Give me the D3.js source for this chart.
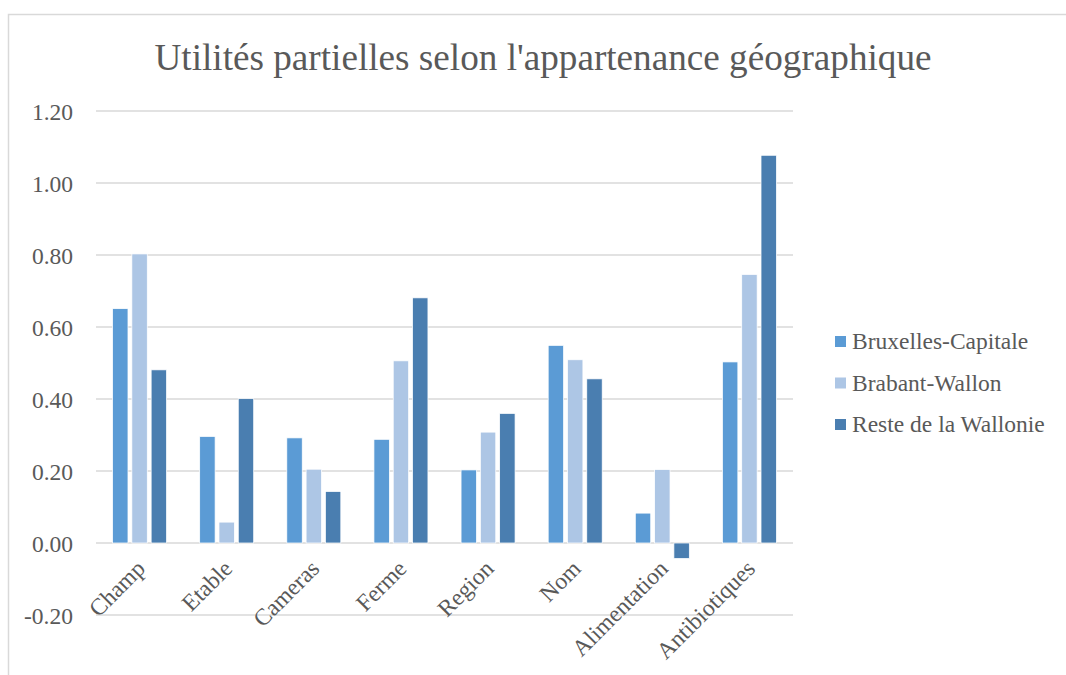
<!DOCTYPE html>
<html>
<head>
<meta charset="utf-8">
<script src="https://cdn.jsdelivr.net/npm/d3@7"></script>
<style>
  body { margin: 0; background: #fff; }
  svg text { font-family: "Liberation Serif", "Times New Roman", serif; fill: #595959; }
</style>
</head>
<body>
<div id="chart"></div>
<script>
// data
var categories = ["Champ", "Etable", "Cameras", "Ferme", "Region", "Nom", "Alimentation", "Antibiotiques"];
var seriesNames = ["Bruxelles-Capitale", "Brabant-Wallon", "Reste de la Wallonie"];
var bruxelles = [0.651, 0.296, 0.292, 0.288, 0.203, 0.549, 0.083, 0.503];
var brabant = [0.803, 0.058, 0.205, 0.506, 0.308, 0.509, 0.204, 0.746];
var resteWallonie = [0.481, 0.401, 0.143, 0.681, 0.360, 0.456, -0.043, 1.077];
var yTicks = [-0.2, 0, 0.2, 0.4, 0.6, 0.8, 1.0, 1.2];
var colors = ["#5b9bd5", "#adc6e5", "#4a7eb0"];

var allSeries = [bruxelles, brabant, resteWallonie];

var W = 1066, H = 675;
var margin = {top: 111, left: 96, right: 273, bottom: 60};
var width = 793 - margin.left,
    height = 615 - margin.top;

var svg = d3.select("#chart").append("svg")
    .attr("width", W).attr("height", H);

// chart frame
svg.append("rect")
    .attr("x", 8.5).attr("y", 14.5)
    .attr("width", W).attr("height", H)
    .attr("fill", "none").attr("stroke", "#d9d9d9").attr("stroke-width", 1.5);

svg.append("text")
    .attr("x", 543).attr("y", 70)
    .attr("text-anchor", "middle")
    .attr("font-size", "37.2px")
    .text("Utilités partielles selon l'appartenance géographique");

var g = svg.append("g").attr("transform", "translate(" + margin.left + "," + margin.top + ")");

var x = d3.scaleBand().domain(categories).range([0, width]).paddingInner(0.38).paddingOuter(0.19);
var xs = d3.scaleBand().domain(d3.range(3)).range([0, x.bandwidth()]).paddingInner(0.2).paddingOuter(0);
var y = d3.scaleLinear().domain([-0.2, 1.2]).range([height, 0]);

// gridlines
g.selectAll(".grid").data(yTicks).enter().append("line")
    .attr("x1", 0).attr("x2", width)
    .attr("y1", function(d) { return y(d); })
    .attr("y2", function(d) { return y(d); })
    .attr("stroke", "#d9d9d9").attr("stroke-width", 1.5);

// y axis (plain hyphen for negatives, like Excel)
var fmt = d3.format(".2f");
var yAxis = g.append("g").attr("transform", "translate(-20,0)")
    .call(d3.axisLeft(y).tickValues(yTicks)
        .tickFormat(function(d) { return fmt(d).replace("\u2212", "-"); })
        .tickSize(0));
yAxis.select(".domain").remove();
yAxis.selectAll("text").attr("font-size", "23.5px").attr("dy", "0.35em")
    .style("font-family", "Liberation Serif, serif").attr("fill", "#595959");

// bars
var groups = g.selectAll(".cat").data(categories).enter().append("g")
    .attr("transform", function(d) { return "translate(" + x(d) + ",0)"; });

groups.selectAll("rect")
    .data(function(d, i) { return allSeries.map(function(s, k) { return {k: k, v: s[i]}; }); })
    .enter().append("rect")
    .attr("x", function(d) { return xs(d.k); })
    .attr("width", xs.bandwidth())
    .attr("y", function(d) { return y(Math.max(0, d.v)); })
    .attr("height", function(d) { return Math.abs(y(d.v) - y(0)); })
    .attr("fill", function(d) { return colors[d.k]; })
    .attr("stroke", "#fff").attr("stroke-width", 0.75);

// x labels
g.selectAll(".xlab").data(categories).enter().append("text")
    .attr("text-anchor", "end")
    .attr("font-size", "23.5px")
    .attr("transform", function(d) {
        return "translate(" + (x(d) + x.bandwidth() / 2 + 7) + "," + (y(0) + 27) + ") rotate(-45)";
    })
    .text(function(d) { return d; });

// legend
var legend = svg.append("g").attr("transform", "translate(835,341)");
var items = legend.selectAll("g").data(seriesNames).enter().append("g")
    .attr("transform", function(d, i) { return "translate(0," + (i * 41.5) + ")"; });
items.append("rect").attr("x", 0).attr("y", -5).attr("width", 11).attr("height", 11)
    .attr("fill", function(d, i) { return colors[i]; });
items.append("text").attr("x", 17).attr("y", 0).attr("dy", "0.35em")
    .attr("font-size", "23.5px").text(function(d) { return d; });
</script>
</body>
</html>
